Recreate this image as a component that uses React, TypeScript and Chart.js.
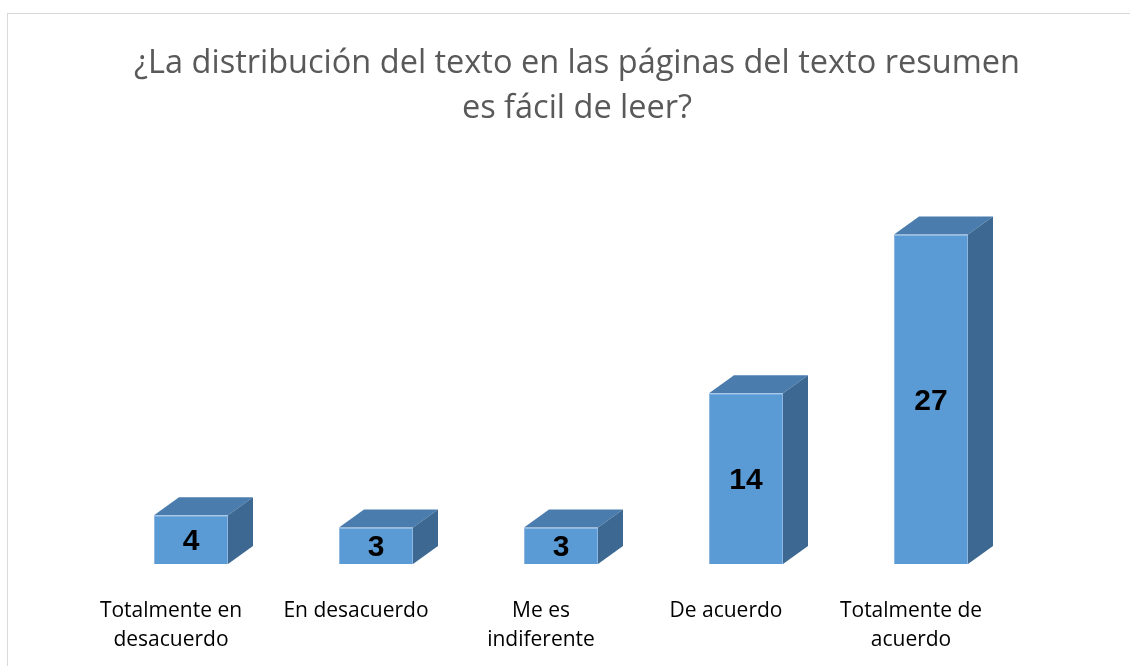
import React, { useEffect, useRef } from "react";
import { Chart, registerables } from "chart.js";

Chart.register(...registerables);

const categories: (string | string[])[] = [
  ["Totalmente en", "desacuerdo"],
  "En desacuerdo",
  ["Me es", "indiferente"],
  "De acuerdo",
  ["Totalmente de", "acuerdo"],
];
const values = [4, 3, 3, 14, 27];
const titleLines = [
  "¿La distribución del texto en las páginas del texto resumen",
  "es fácil de leer?",
];
const yMin = 0;
const yMax = 30;

const FRONT = "#5B9BD5";
const TOP = "#4A7DAE";
const SIDE = "#3C6892";
const DX = 25;
const DY = 18;

const box3d = {
  id: "box3d",
  beforeDatasetsDraw(chart: any) {
    const ctx = chart.ctx;
    const meta = chart.getDatasetMeta(0);
    ctx.save();
    meta.data.forEach((bar: any) => {
      const { x, y, base, width } = bar.getProps(["x", "y", "base", "width"], true);
      const l = x - width / 2;
      const r = x + width / 2;
      ctx.fillStyle = TOP;
      ctx.beginPath();
      ctx.moveTo(l, y);
      ctx.lineTo(l + DX, y - DY);
      ctx.lineTo(r + DX, y - DY);
      ctx.lineTo(r, y);
      ctx.closePath();
      ctx.fill();
      ctx.fillStyle = SIDE;
      ctx.beginPath();
      ctx.moveTo(r, y);
      ctx.lineTo(r + DX, y - DY);
      ctx.lineTo(r + DX, base - DY);
      ctx.lineTo(r, base);
      ctx.closePath();
      ctx.fill();
    });
    ctx.restore();
  },
};

const valueLabels = {
  id: "valueLabels",
  afterDatasetsDraw(chart: any) {
    const ctx = chart.ctx;
    const meta = chart.getDatasetMeta(0);
    ctx.save();
    ctx.font = 'bold 30px "Liberation Sans", Arial, sans-serif';
    ctx.fillStyle = "#000000";
    ctx.textAlign = "center";
    ctx.textBaseline = "middle";
    meta.data.forEach((bar: any, i: number) => {
      const { x, y, base } = bar.getProps(["x", "y", "base"], true);
      ctx.fillText(String(values[i]), x, (y + base) / 2 + 2);
    });
    ctx.restore();
  },
};

const customTitle = {
  id: "customTitle",
  afterDraw(chart: any) {
    const ctx = chart.ctx;
    ctx.save();
    ctx.font = '32.5px "Open Sans", sans-serif';
    ctx.fillStyle = "#595959";
    ctx.textAlign = "center";
    ctx.textBaseline = "alphabetic";
    ctx.fillText(titleLines[0], 577, 73);
    ctx.fillText(titleLines[1], 577, 118);
    ctx.restore();
  },
};

export default function App() {
  const ref = useRef<HTMLCanvasElement>(null);
  useEffect(() => {
    if (!ref.current) return;
    const chart = new Chart(ref.current, {
      type: "bar",
      data: {
        labels: categories,
        datasets: [
          {
            data: values,
            backgroundColor: FRONT,
            borderColor: "#8DB7E2",
            borderWidth: 1,
            barPercentage: 1,
            categoryPercentage: 0.4,
          },
        ],
      },
      options: {
        animation: false,
        responsive: false,
        devicePixelRatio: 1,
        layout: { padding: { top: 198, left: 98.5, right: 106.5, bottom: 0 } },
        plugins: {
          legend: { display: false },
          title: { display: false },
          tooltip: { enabled: false },
        },
        scales: {
          x: {
            type: "category",
            offset: true,
            grid: { display: false, drawTicks: false },
            border: { display: false },
            ticks: {
              color: "#000000",
              font: { family: '"Open Sans", sans-serif', size: 21, lineHeight: 1.38 },
              padding: 33,
              labelOffset: -20,
              maxRotation: 0,
              minRotation: 0,
              autoSkip: false,
            },
            afterFit: (s: any) => {
              s.height = 102;
            },
          },
          y: { display: false, min: yMin, max: yMax },
        },
      },
      plugins: [box3d, valueLabels, customTitle],
    });
    return () => chart.destroy();
  }, []);
  return (
    <div
      style={{
        position: "fixed",
        left: 0,
        top: 0,
        width: 1130,
        height: 666,
        overflow: "hidden",
        background: "#ffffff",
      }}
    >
      <div
        style={{
          position: "absolute",
          left: 7,
          top: 13,
          width: 1200,
          height: 800,
          border: "1px solid #d9d9d9",
          boxSizing: "border-box",
        }}
      />
      <canvas
        ref={ref}
        width={1130}
        height={666}
        style={{ position: "absolute", left: 0, top: 0, width: 1130, height: 666 }}
      />
    </div>
  );
}
